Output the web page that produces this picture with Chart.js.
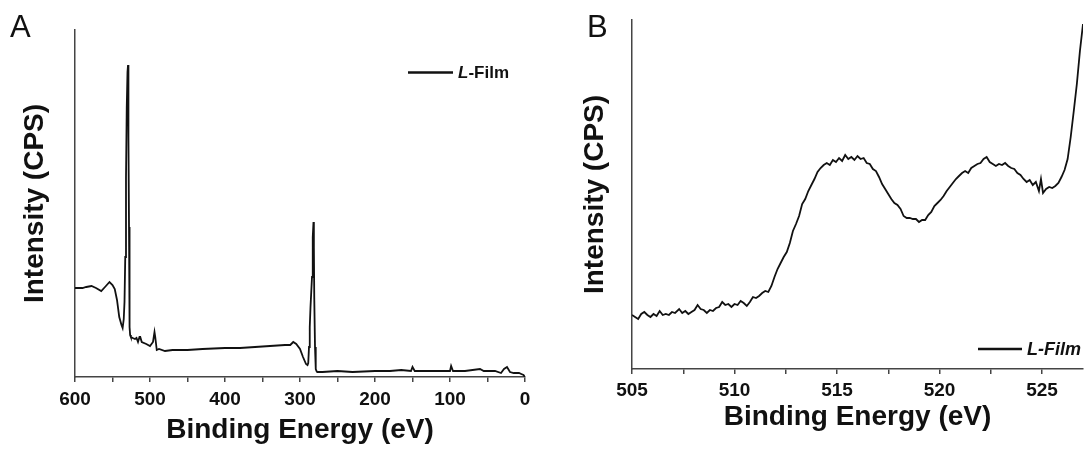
<!DOCTYPE html>
<html>
<head>
<meta charset="utf-8">
<script src="https://cdn.jsdelivr.net/npm/chart.js@4"></script>
<style>
  body { margin: 0; background: #fff; overflow: hidden; }
  .panel { position: absolute; top: 0; }
  .tag { position: absolute; top: 11px; font: 31px/31px "Liberation Sans", Arial, sans-serif; color: #111; }
</style>
</head>
<body>
<div class="panel" style="left:0px"><canvas id="chartA" width="545" height="451"></canvas></div>
<div class="panel" style="left:545px"><canvas id="chartB" width="539" height="451"></canvas></div>
<div class="tag" style="left:10px">A</div>
<div class="tag" style="left:587px">B</div>
<script>
// survey scan (panel A), binding energy in eV and intensity in arbitrary units
const energyA = [600, 595, 590, 585, 578, 572, 565, 560, 554, 550, 547, 544, 541, 538, 536.5, 535, 534, 533, 532, 531, 530, 529.3, 529, 528.5, 528, 527.5, 527, 526.5, 525.5, 523, 520, 518, 516, 514, 513, 511, 505, 500, 496, 494, 493, 491, 488, 480, 470, 450, 430, 400, 380, 360, 340, 320, 313, 309, 305, 300, 296, 292, 290, 289, 288, 287, 286, 285, 284, 283, 282, 281.5, 281, 280, 279, 278, 277, 270, 250, 230, 200, 180, 165, 152, 150, 147, 120, 100, 98.5, 96, 80, 60, 55, 40, 32, 28, 24, 20, 15, 8, 5, 2, 0];
const intensityA = [89, 89, 89, 90, 91, 89, 86, 90, 95, 92, 88, 77, 60, 52, 49, 58, 75, 120, 200, 270, 305, 312, 300, 240, 150, 80, 50, 42, 40, 39, 38, 39, 35, 40, 40, 35, 33, 31, 35, 45, 40, 27, 28, 26, 27, 27, 28, 29, 29, 30, 31, 32, 32, 35, 33, 28, 20, 13, 12, 14, 30, 50, 70, 85, 100, 140, 155, 130, 80, 30, 8, 6, 5, 5, 6, 5, 6, 6, 7, 6, 10, 6, 6, 6, 11, 6, 6, 8, 6, 6, 4, 8, 10, 5, 4, 4, 3, 2, 0];
const ticksA = [600, 550, 500, 450, 400, 350, 300, 250, 200, 150, 100, 50, 0];

// O KLL region (panel B)
const energyB = [505.0, 505.15, 505.3, 505.45, 505.6, 505.75, 505.9, 506.05, 506.2, 506.35, 506.5, 506.65, 506.8, 506.95, 507.1, 507.3, 507.45, 507.6, 507.75, 507.9, 508.05, 508.2, 508.35, 508.5, 508.65, 508.8, 508.95, 509.1, 509.25, 509.4, 509.55, 509.7, 509.85, 510.0, 510.15, 510.3, 510.45, 510.6, 510.75, 510.9, 511.05, 511.2, 511.35, 511.5, 511.65, 511.8, 511.95, 512.1, 512.25, 512.4, 512.55, 512.7, 512.85, 513.0, 513.15, 513.3, 513.45, 513.6, 513.75, 513.9, 514.05, 514.2, 514.35, 514.5, 514.65, 514.8, 514.95, 515.1, 515.25, 515.4, 515.55, 515.7, 515.85, 516.0, 516.15, 516.3, 516.45, 516.6, 516.75, 516.9, 517.05, 517.2, 517.35, 517.5, 517.65, 517.8, 517.95, 518.1, 518.25, 518.4, 518.55, 518.7, 518.85, 519.0, 519.15, 519.3, 519.45, 519.6, 519.75, 519.9, 520.05, 520.2, 520.35, 520.5, 520.65, 520.8, 520.95, 521.1, 521.25, 521.4, 521.55, 521.7, 521.85, 522.0, 522.15, 522.3, 522.45, 522.6, 522.75, 522.9, 523.05, 523.2, 523.35, 523.5, 523.65, 523.8, 523.95, 524.1, 524.25, 524.4, 524.55, 524.7, 524.85, 524.95, 525.05, 525.2, 525.35, 525.5, 525.65, 525.8, 525.95, 526.1, 526.25, 526.4, 526.55, 526.7, 526.85, 527.0];
const intensityB = [54, 52, 50, 55, 57, 54, 52, 55, 53, 58, 54, 55, 54, 57, 56, 60, 56, 58, 55, 57, 59, 64, 60, 59, 56, 59, 58, 61, 62, 67, 64, 65, 62, 65, 64, 68, 66, 63, 67, 72, 71, 73, 76, 78, 77, 83, 92, 100, 106, 112, 117, 126, 138, 145, 153, 165, 170, 178, 184, 190, 197, 201, 204, 206, 204, 209, 207, 211, 208, 214, 210, 212, 209, 213, 210, 211, 206, 205, 200, 198, 192, 185, 180, 175, 170, 166, 164, 160, 153, 151, 151, 150, 150, 147, 149, 149, 154, 157, 163, 166, 169, 173, 178, 182, 186, 190, 193, 196, 198, 196, 201, 203, 205, 206, 210, 212, 207, 205, 203, 205, 204, 206, 203, 201, 200, 196, 194, 190, 187, 189, 184, 187, 178, 190, 176, 180, 182, 181, 183, 186, 192, 199, 210, 232, 258, 285, 318, 345];
const ticksB = [505, 507.5, 510, 512.5, 515, 517.5, 520, 522.5, 525];

const seriesLabel = "L-Film";
const axisColor = "#444";
const lineColor = "#111";

Chart.defaults.font.family = '"Liberation Sans", Arial, sans-serif';
Chart.defaults.color = "#111";

function points(xs, ys) {
    return xs.map((x, i) => ({x: x, y: ys[i]}));
}

// small legend: a line and the label, the leading letter in italics when asked
function legendPlugin(x0, x1, y, size, allItalic) {
    return {
        id: "miniLegend",
        afterDatasetsDraw(chart) {
            const ctx = chart.ctx;
            const label = chart.data.datasets[0].label;
            ctx.save();
            ctx.strokeStyle = lineColor;
            ctx.lineWidth = 2.5;
            ctx.beginPath();
            ctx.moveTo(x0, y);
            ctx.lineTo(x1, y);
            ctx.stroke();
            ctx.fillStyle = lineColor;
            ctx.textBaseline = "middle";
            let tx = x1 + 5;
            if (allItalic) {
                ctx.font = "italic bold " + size + 'px "Liberation Sans", Arial, sans-serif';
                ctx.fillText(label, tx, y + 1);
            } else {
                ctx.font = "italic bold " + size + 'px "Liberation Sans", Arial, sans-serif';
                ctx.fillText(label[0], tx, y + 1);
                tx += ctx.measureText(label[0]).width;
                ctx.font = "bold " + size + 'px "Liberation Sans", Arial, sans-serif';
                ctx.fillText(label.slice(1), tx, y + 1);
            }
            ctx.restore();
        }
    };
}

function makeConfig(o) {
    return {
        type: "line",
        data: {
            datasets: [{
                label: seriesLabel,
                data: o.data,
                borderColor: lineColor,
                borderWidth: 1.8,
                pointRadius: 0,
                tension: 0,
                fill: false
            }]
        },
        options: {
            responsive: false,
            animation: false,
            devicePixelRatio: 1,
            layout: {padding: o.pad},
            plugins: {legend: {display: false}, tooltip: {enabled: false}},
            scales: {
                x: {
                    type: "linear",
                    min: o.xmin,
                    max: o.xmax,
                    reverse: o.reverse,
                    afterBuildTicks: (scale) => { scale.ticks = o.ticks.map(v => ({value: v})); },
                    afterFit: (scale) => { scale.height = o.xHeight; },
                    ticks: {
                        autoSkip: false,
                        maxRotation: 0,
                        padding: o.tickPad,
                        color: "#111",
                        font: {size: 19, weight: "bold"},
                        callback: (v) => (v % o.major === 0 ? String(v) : "")
                    },
                    grid: {display: true, drawOnChartArea: false, drawTicks: true, tickLength: 5, color: axisColor, lineWidth: 1.5},
                    border: {display: true, color: axisColor, width: 1.5},
                    title: {
                        display: true,
                        text: "Binding Energy (eV)",
                        color: "#111",
                        font: {size: 28, weight: "bold"},
                        padding: {top: 0, bottom: o.xTitlePad}
                    }
                },
                y: {
                    min: 0,
                    max: o.ymax,
                    afterFit: (scale) => { scale.width = o.yWidth; },
                    ticks: {display: false},
                    grid: {display: false},
                    border: {display: true, color: axisColor, width: 1.5},
                    title: {
                        display: true,
                        text: "Intensity (CPS)",
                        color: "#111",
                        font: {size: 28, weight: "bold"},
                        padding: {top: o.yTitlePad, bottom: 0}
                    }
                }
            }
        },
        plugins: [o.legend]
    };
}

new Chart(document.getElementById("chartA"), makeConfig({
    data: points(energyA, intensityA),
    xmin: 0, xmax: 600, reverse: true, ymax: 347,
    ticks: ticksA, major: 100,
    pad: {left: 0, top: 30, right: 20, bottom: 0},
    xHeight: 74, yWidth: 75, tickPad: 6.5, xTitlePad: 4, yTitlePad: 18.5,
    legend: legendPlugin(408, 453, 72.5, 17, false)
}));

new Chart(document.getElementById("chartB"), makeConfig({
    data: points(energyB, intensityB),
    xmin: 505, xmax: 527, reverse: false, ymax: 349,
    ticks: ticksB, major: 5,
    pad: {left: 0, top: 20, right: 1, bottom: 0},
    xHeight: 82, yWidth: 87, tickPad: 5, xTitlePad: 17, yTitlePad: 33.5,
    legend: legendPlugin(433, 477, 349, 18, true)
}));
</script>
</body>
</html>
